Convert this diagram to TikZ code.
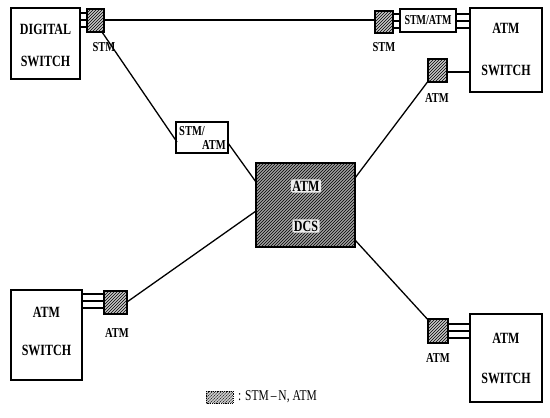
\documentclass[tikz,border=0pt]{standalone}
\usepackage{fontspec}
\setmainfont{Liberation Serif}
\usetikzlibrary{patterns}
\newcommand\tallt[1]{\scalebox{1}[1.3]{#1}}
\begin{document}
\begin{tikzpicture}[x=1pt,y=-1pt,
  box/.style={draw,line width=1.4pt,fill=white},
  hatchbox/.style={draw,line width=1.4pt,preaction={fill=gray!45},pattern=north east lines,pattern color=black},
  dcsbox/.style={draw,line width=1.6pt,preaction={fill=gray!75},pattern=north east lines,pattern color=black},
  port/.style={draw,line width=1.1pt},
  link/.style={line width=1.3pt},
  lbl/.style={font=\bfseries\fontsize{12}{13}\selectfont,inner sep=0pt},
  small/.style={font=\bfseries\fontsize{10.5}{11}\selectfont,inner sep=0pt},
  halo/.style={fill=gray!15,inner sep=1.5pt,rounded corners=2pt}]
\useasboundingbox (0,0) rectangle (550,418);
% DIGITAL SWITCH
\draw[box] (11,8) rectangle (80,79);
\node[lbl] (dsw1) at (45.5,29) {\tallt{DIGITAL}};
\node[lbl] (dsw2) at (45.5,61) {\tallt{SWITCH}};
\draw[port] (80,13) rectangle (87,20);
\draw[port] (80,20) rectangle (87,27);
\draw[hatchbox] (87,9) rectangle (104,32);
\coordinate (sdE) at (104,20);
\coordinate (sdSE) at (102,32);
\node[small] (sdl) at (104,47) {\tallt{STM}};
% top right
\draw[hatchbox] (375,11) rectangle (393,33);
\coordinate (stW) at (375,20);
\node[small] (stl) at (384,47) {\tallt{STM}};
\draw[port] (393,14) rectangle (400,21);
\draw[port] (393,21) rectangle (400,28);
\draw[box] (400,9) rectangle (456,32);
\node[small] (sa) at (428,20.5) {\scalebox{0.95}[1.3]{STM/ATM}};
\draw[port] (456,14) rectangle (470,21);
\draw[port] (456,21) rectangle (470,28);
\draw[box] (470,8) rectangle (542,92);
\node[lbl] (ts1) at (506,28) {\tallt{ATM}};
\node[lbl] (ts2) at (506,70) {\tallt{SWITCH}};
\draw[hatchbox] (428,59) rectangle (447,82);
\coordinate (ahSW) at (429,80);
\draw[port] (447,72) -- (470,72);
\node[small] (ahl) at (437,98) {\tallt{ATM}};
% top line
\draw[link] (sdE) -- (stW);
% middle STM/ATM
\draw[box] (176,122) rectangle (228,153);
\node[small,anchor=west] (m1) at (179,131) {\tallt{STM/}};
\node[small,anchor=east] (m2) at (226,145) {\tallt{ATM}};
\coordinate (mW) at (177,142);
\coordinate (mE) at (228,143);
\draw[link] (sdSE) -- (mW);
% DCS
\draw[dcsbox] (256,163) rectangle (355,247);
\node[lbl,halo] (d1) at (306,186) {\tallt{ATM}};
\node[lbl,halo] (d2) at (306,226) {\tallt{DCS}};
\coordinate (dL1) at (256,182);
\coordinate (dL2) at (256,211);
\coordinate (dR1) at (355,178);
\coordinate (dR2) at (355,240);
\draw[link] (mE) -- (dL1);
\draw[link] (dR1) -- (ahSW);
% bottom left
\draw[box] (11,290) rectangle (82,380);
\node[lbl] (bl1) at (46.5,312) {\tallt{ATM}};
\node[lbl] (bl2) at (46.5,350) {\tallt{SWITCH}};
\draw[port] (82,294) rectangle (104,301);
\draw[port] (82,301) rectangle (104,308);
\draw[hatchbox] (104,291) rectangle (127,314);
\coordinate (blE) at (127,302);
\node[small] (bll) at (117,333) {\tallt{ATM}};
\draw[link] (dL2) -- (blE);
% bottom right
\draw[hatchbox] (428,319) rectangle (448,343);
\coordinate (brNW) at (430,322);
\draw[port] (448,324) rectangle (470,331);
\draw[port] (448,331) rectangle (470,338);
\draw[box] (470,314) rectangle (542,402);
\node[lbl] (br1) at (506,338) {\tallt{ATM}};
\node[lbl] (br2) at (506,378) {\tallt{SWITCH}};
\node[small] (brl) at (438,358) {\tallt{ATM}};
\draw[link] (dR2) -- (brNW);
% legend
\draw[hatchbox,line width=0.8pt,densely dotted] (206,391) rectangle (233,403);
\node[font=\fontsize{11.5}{12}\selectfont,inner sep=0pt,anchor=west] (leg) at (238,397) {\tallt{: STM\,--\,N, ATM}};
\end{tikzpicture}
\end{document}
